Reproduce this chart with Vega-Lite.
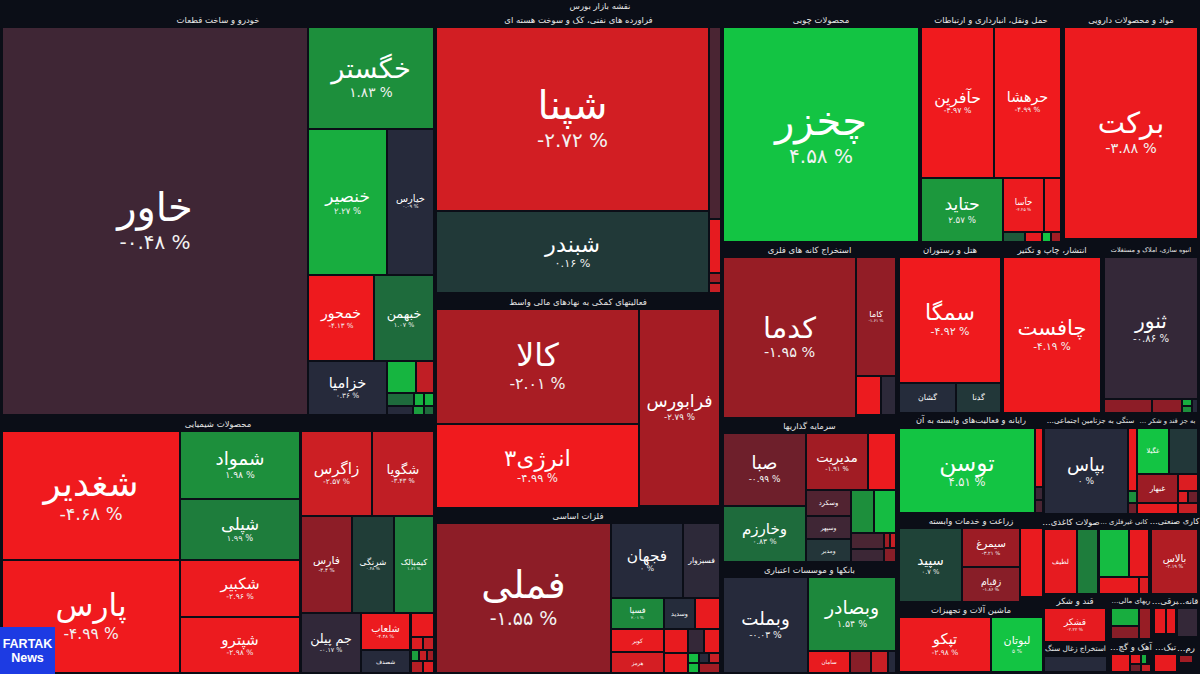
{
  "$schema": "https://vega.github.io/schema/vega-lite/v6.json",
  "width": 1200,
  "height": 674,
  "padding": 0,
  "autosize": {"type": "fit", "contains": "padding"},
  "background": "#0b0e17",
  "config": {"view": {"stroke": null}},
  "datasets": {
    "tiles": [
      {"group": "خودرو و ساخت قطعات", "name": "خاور", "pct": -0.48, "last": -0.35, "x0": 3, "x1": 307, "y0": 28, "y1": 414},
      {"group": "خودرو و ساخت قطعات", "name": "خگستر", "pct": 1.83, "last": 2, "x0": 309, "x1": 433, "y0": 28, "y1": 128},
      {"group": "خودرو و ساخت قطعات", "name": "خنصیر", "pct": 2.27, "last": 3, "x0": 309, "x1": 386, "y0": 130, "y1": 274},
      {"group": "خودرو و ساخت قطعات", "name": "خپارس", "pct": 0.09, "last": 0, "x0": 388, "x1": 433, "y0": 130, "y1": 274},
      {"group": "خودرو و ساخت قطعات", "name": "خمحور", "pct": -4.13, "last": -4.9, "x0": 309, "x1": 373, "y0": 276, "y1": 360},
      {"group": "خودرو و ساخت قطعات", "name": "خبهمن", "pct": 1.07, "last": 1, "x0": 375, "x1": 433, "y0": 276, "y1": 360},
      {"group": "خودرو و ساخت قطعات", "name": "خزامیا", "pct": 0.36, "last": 0, "x0": 309, "x1": 386, "y0": 362, "y1": 414},
      {"group": "خودرو و ساخت قطعات", "last": 3.5, "x0": 388, "x1": 415, "y0": 362, "y1": 392},
      {"group": "خودرو و ساخت قطعات", "last": -2.8, "x0": 417, "x1": 433, "y0": 362, "y1": 392},
      {"group": "خودرو و ساخت قطعات", "last": 1, "x0": 388, "x1": 413, "y0": 394, "y1": 405},
      {"group": "خودرو و ساخت قطعات", "last": 3.5, "x0": 415, "x1": 423, "y0": 394, "y1": 405},
      {"group": "خودرو و ساخت قطعات", "last": 3.5, "x0": 425, "x1": 433, "y0": 394, "y1": 405},
      {"group": "خودرو و ساخت قطعات", "last": 0, "x0": 388, "x1": 412, "y0": 407, "y1": 414},
      {"group": "خودرو و ساخت قطعات", "last": 2.5, "x0": 414, "x1": 423, "y0": 407, "y1": 414},
      {"group": "خودرو و ساخت قطعات", "last": 1, "x0": 425, "x1": 433, "y0": 407, "y1": 414},

      {"group": "محصولات شیمیایی", "name": "شغدیر", "pct": -4.68, "last": -5, "x0": 3, "x1": 179, "y0": 432, "y1": 559},
      {"group": "محصولات شیمیایی", "name": "پارس", "pct": -4.99, "last": -5, "x0": 3, "x1": 179, "y0": 561, "y1": 672},
      {"group": "محصولات شیمیایی", "name": "شمواد", "pct": 1.98, "last": 2, "x0": 181, "x1": 299, "y0": 432, "y1": 498},
      {"group": "محصولات شیمیایی", "name": "شپلی", "pct": 1.99, "last": 1.5, "x0": 181, "x1": 299, "y0": 500, "y1": 559},
      {"group": "محصولات شیمیایی", "name": "شکبیر", "pct": -2.96, "last": -4.8, "x0": 181, "x1": 299, "y0": 561, "y1": 616},
      {"group": "محصولات شیمیایی", "name": "شپترو", "pct": -2.98, "last": -4.8, "x0": 181, "x1": 299, "y0": 618, "y1": 672},
      {"group": "محصولات شیمیایی", "name": "زاگرس", "pct": -2.57, "last": -3.2, "x0": 302, "x1": 371, "y0": 432, "y1": 515},
      {"group": "محصولات شیمیایی", "name": "شگویا", "pct": -3.43, "last": -2.8, "x0": 373, "x1": 433, "y0": 432, "y1": 515},
      {"group": "محصولات شیمیایی", "name": "فارس", "pct": -3.4, "last": -1.6, "x0": 302, "x1": 351, "y0": 517, "y1": 612},
      {"group": "محصولات شیمیایی", "name": "شرنگی", "pct": 0.48, "last": 0.45, "x0": 353, "x1": 393, "y0": 517, "y1": 612},
      {"group": "محصولات شیمیایی", "name": "کیمیالک", "pct": 1.61, "last": 1.5, "x0": 395, "x1": 433, "y0": 517, "y1": 612},
      {"group": "محصولات شیمیایی", "name": "جم پیلن", "pct": -0.17, "last": -0.15, "x0": 302, "x1": 360, "y0": 614, "y1": 672},
      {"group": "محصولات شیمیایی", "name": "شلعاب", "pct": -4.48, "last": -4.8, "x0": 362, "x1": 409, "y0": 614, "y1": 649},
      {"group": "محصولات شیمیایی", "name": "شصدف", "last": 0, "x0": 362, "x1": 409, "y0": 651, "y1": 672},
      {"group": "محصولات شیمیایی", "last": -4.7, "x0": 412, "x1": 433, "y0": 614, "y1": 636},
      {"group": "محصولات شیمیایی", "last": -4, "x0": 412, "x1": 422, "y0": 638, "y1": 649},
      {"group": "محصولات شیمیایی", "last": -3, "x0": 424, "x1": 433, "y0": 638, "y1": 649},
      {"group": "محصولات شیمیایی", "last": 2.5, "x0": 412, "x1": 418, "y0": 651, "y1": 660},
      {"group": "محصولات شیمیایی", "last": -3, "x0": 420, "x1": 426, "y0": 651, "y1": 660},
      {"group": "محصولات شیمیایی", "last": -2, "x0": 428, "x1": 433, "y0": 651, "y1": 660},
      {"group": "محصولات شیمیایی", "last": -2.5, "x0": 412, "x1": 422, "y0": 662, "y1": 672},
      {"group": "محصولات شیمیایی", "last": -4, "x0": 424, "x1": 433, "y0": 662, "y1": 672},

      {"group": "فراورده های نفتی، کک و سوخت هسته ای", "name": "شپنا", "pct": -2.72, "last": -3.5, "x0": 437, "x1": 708, "y0": 28, "y1": 210},
      {"group": "فراورده های نفتی، کک و سوخت هسته ای", "name": "شبندر", "pct": 0.16, "last": 0.35, "x0": 437, "x1": 708, "y0": 212, "y1": 292},
      {"group": "فراورده های نفتی، کک و سوخت هسته ای", "last": -0.5, "x0": 710, "x1": 720, "y0": 28, "y1": 218},
      {"group": "فراورده های نفتی، کک و سوخت هسته ای", "last": -4.5, "x0": 710, "x1": 720, "y0": 220, "y1": 272},
      {"group": "فراورده های نفتی، کک و سوخت هسته ای", "last": -2, "x0": 710, "x1": 720, "y0": 274, "y1": 282},
      {"group": "فراورده های نفتی، کک و سوخت هسته ای", "last": -3, "x0": 710, "x1": 720, "y0": 284, "y1": 292},

      {"group": "فعالیتهای کمکی به نهادهای مالی واسط", "name": "کالا", "pct": -2.01, "last": -2.2, "x0": 437, "x1": 638, "y0": 310, "y1": 423},
      {"group": "فعالیتهای کمکی به نهادهای مالی واسط", "name": "انرژی۳", "pct": -4.99, "last": -5, "x0": 437, "x1": 638, "y0": 425, "y1": 507},
      {"group": "فعالیتهای کمکی به نهادهای مالی واسط", "name": "فرابورس", "pct": -2.79, "last": -2.1, "x0": 640, "x1": 719, "y0": 310, "y1": 505},

      {"group": "فلزات اساسی", "name": "فملی", "pct": -1.55, "last": -1.6, "x0": 437, "x1": 610, "y0": 524, "y1": 672},
      {"group": "فلزات اساسی", "name": "فجهان", "pct": 0, "last": 0, "x0": 612, "x1": 682, "y0": 524, "y1": 597},
      {"group": "فلزات اساسی", "name": "فسبزوار", "pct": -0.17, "last": -0.1, "x0": 684, "x1": 719, "y0": 524, "y1": 597},
      {"group": "فلزات اساسی", "name": "فسپا", "pct": 2.01, "last": 1.8, "x0": 612, "x1": 663, "y0": 599, "y1": 628},
      {"group": "فلزات اساسی", "name": "وسدید", "pct": 0.28, "last": 0.05, "x0": 665, "x1": 694, "y0": 599, "y1": 628},
      {"group": "فلزات اساسی", "last": -4.6, "x0": 696, "x1": 719, "y0": 599, "y1": 628},
      {"group": "فلزات اساسی", "name": "کویر", "last": -4.6, "x0": 612, "x1": 663, "y0": 630, "y1": 651},
      {"group": "فلزات اساسی", "name": "هرمز", "last": -3.6, "x0": 612, "x1": 663, "y0": 653, "y1": 672},
      {"group": "فلزات اساسی", "last": -4.6, "x0": 665, "x1": 687, "y0": 630, "y1": 652},
      {"group": "فلزات اساسی", "last": -4.6, "x0": 665, "x1": 687, "y0": 654, "y1": 672},
      {"group": "فلزات اساسی", "last": -0.2, "x0": 689, "x1": 703, "y0": 630, "y1": 652},
      {"group": "فلزات اساسی", "last": -4.6, "x0": 705, "x1": 719, "y0": 630, "y1": 652},
      {"group": "فلزات اساسی", "last": 4, "x0": 689, "x1": 698, "y0": 654, "y1": 662},
      {"group": "فلزات اساسی", "last": 4, "x0": 689, "x1": 698, "y0": 664, "y1": 672},
      {"group": "فلزات اساسی", "last": 0, "x0": 700, "x1": 708, "y0": 654, "y1": 662},
      {"group": "فلزات اساسی", "last": -3, "x0": 710, "x1": 719, "y0": 654, "y1": 662},
      {"group": "فلزات اساسی", "last": -2, "x0": 700, "x1": 719, "y0": 664, "y1": 672},

      {"group": "محصولات چوبی", "name": "چخزر", "pct": 4.58, "last": 4.6, "x0": 724, "x1": 918, "y0": 28, "y1": 241},

      {"group": "حمل ونقل، انبارداری و ارتباطات", "name": "حآفرین", "pct": -4.97, "last": -5, "x0": 922, "x1": 993, "y0": 28, "y1": 177},
      {"group": "حمل ونقل، انبارداری و ارتباطات", "name": "حرهشا", "pct": -4.99, "last": -5, "x0": 995, "x1": 1060, "y0": 28, "y1": 177},
      {"group": "حمل ونقل، انبارداری و ارتباطات", "name": "حتاید", "pct": 2.57, "last": 2.3, "x0": 922, "x1": 1002, "y0": 179, "y1": 241},
      {"group": "حمل ونقل، انبارداری و ارتباطات", "name": "حآسا", "pct": -4.45, "last": -4.8, "x0": 1004, "x1": 1043, "y0": 179, "y1": 231},
      {"group": "حمل ونقل، انبارداری و ارتباطات", "last": -4.8, "x0": 1045, "x1": 1060, "y0": 179, "y1": 231},
      {"group": "حمل ونقل، انبارداری و ارتباطات", "last": 0.8, "x0": 1004, "x1": 1024, "y0": 233, "y1": 241},
      {"group": "حمل ونقل، انبارداری و ارتباطات", "last": -4.5, "x0": 1026, "x1": 1041, "y0": 233, "y1": 241},
      {"group": "حمل ونقل، انبارداری و ارتباطات", "last": 4.5, "x0": 1043, "x1": 1050, "y0": 233, "y1": 241},
      {"group": "حمل ونقل، انبارداری و ارتباطات", "last": -2, "x0": 1052, "x1": 1060, "y0": 233, "y1": 241},

      {"group": "مواد و محصولات دارویی", "name": "برکت", "pct": -3.88, "last": -4.8, "x0": 1065, "x1": 1197, "y0": 28, "y1": 238},

      {"group": "استخراج کانه های فلزی", "name": "کدما", "pct": -1.95, "last": -1.8, "x0": 724, "x1": 855, "y0": 258, "y1": 417},
      {"group": "استخراج کانه های فلزی", "name": "کاما", "pct": -1.61, "last": -1.7, "x0": 857, "x1": 895, "y0": 258, "y1": 375},
      {"group": "استخراج کانه های فلزی", "last": -4.8, "x0": 857, "x1": 880, "y0": 377, "y1": 414},
      {"group": "استخراج کانه های فلزی", "last": -0.1, "x0": 882, "x1": 895, "y0": 377, "y1": 414},

      {"group": "هتل و رستوران", "name": "سمگا", "pct": -4.92, "last": -5, "x0": 900, "x1": 1000, "y0": 258, "y1": 382},
      {"group": "هتل و رستوران", "name": "گشان", "pct": 0.06, "last": 0.05, "x0": 900, "x1": 955, "y0": 384, "y1": 412},
      {"group": "هتل و رستوران", "name": "گدنا", "pct": 0.56, "last": 0.3, "x0": 957, "x1": 1000, "y0": 384, "y1": 412},

      {"group": "انتشار، چاپ و تکثیر", "name": "چافست", "pct": -4.19, "last": -4.9, "x0": 1004, "x1": 1100, "y0": 258, "y1": 412},

      {"group": "انبوه سازی، املاک و مستغلات", "name": "ثنور", "pct": -0.86, "last": -0.2, "x0": 1105, "x1": 1197, "y0": 258, "y1": 398},
      {"group": "انبوه سازی، املاک و مستغلات", "last": -1.6, "x0": 1105, "x1": 1151, "y0": 400, "y1": 412},
      {"group": "انبوه سازی، املاک و مستغلات", "last": -1.6, "x0": 1153, "x1": 1181, "y0": 400, "y1": 412},
      {"group": "انبوه سازی، املاک و مستغلات", "last": 3, "x0": 1183, "x1": 1191, "y0": 400, "y1": 405},
      {"group": "انبوه سازی، املاک و مستغلات", "last": 2, "x0": 1183, "x1": 1191, "y0": 407, "y1": 412},
      {"group": "انبوه سازی، املاک و مستغلات", "last": 0, "x0": 1193, "x1": 1197, "y0": 400, "y1": 412},

      {"group": "سرمایه گذاریها", "name": "صبا", "pct": -0.99, "last": -1, "x0": 724, "x1": 805, "y0": 434, "y1": 505},
      {"group": "سرمایه گذاریها", "name": "مدیریت", "pct": -1.91, "last": -2, "x0": 807, "x1": 867, "y0": 434, "y1": 489},
      {"group": "سرمایه گذاریها", "last": -4.8, "x0": 869, "x1": 895, "y0": 434, "y1": 489},
      {"group": "سرمایه گذاریها", "name": "وخارزم", "pct": 0.83, "last": 1, "x0": 724, "x1": 805, "y0": 507, "y1": 561},
      {"group": "سرمایه گذاریها", "name": "وسکرد", "pct": -1.18, "last": -0.6, "x0": 807, "x1": 850, "y0": 491, "y1": 515},
      {"group": "سرمایه گذاریها", "name": "وسپهر", "pct": -0.28, "last": -0.35, "x0": 807, "x1": 850, "y0": 517, "y1": 538},
      {"group": "سرمایه گذاریها", "name": "ومدیر", "pct": 0.21, "last": 0.25, "x0": 807, "x1": 850, "y0": 540, "y1": 561},
      {"group": "سرمایه گذاریها", "last": 2, "x0": 852, "x1": 873, "y0": 491, "y1": 532},
      {"group": "سرمایه گذاریها", "last": 4, "x0": 875, "x1": 895, "y0": 491, "y1": 532},
      {"group": "سرمایه گذاریها", "last": -0.5, "x0": 852, "x1": 883, "y0": 534, "y1": 548},
      {"group": "سرمایه گذاریها", "last": -0.3, "x0": 852, "x1": 883, "y0": 550, "y1": 561},
      {"group": "سرمایه گذاریها", "last": -2, "x0": 885, "x1": 889, "y0": 534, "y1": 547},
      {"group": "سرمایه گذاریها", "last": -3, "x0": 891, "x1": 895, "y0": 534, "y1": 547},
      {"group": "سرمایه گذاریها", "last": -1.5, "x0": 885, "x1": 895, "y0": 549, "y1": 561},

      {"group": "بانکها و موسسات اعتباری", "name": "وبملت", "pct": -0.03, "last": 0, "x0": 724, "x1": 807, "y0": 578, "y1": 672},
      {"group": "بانکها و موسسات اعتباری", "name": "وبصادر", "pct": 1.54, "last": 1.8, "x0": 809, "x1": 895, "y0": 578, "y1": 650},
      {"group": "بانکها و موسسات اعتباری", "name": "سامان", "last": -4.6, "x0": 809, "x1": 849, "y0": 652, "y1": 672},
      {"group": "بانکها و موسسات اعتباری", "last": -1.5, "x0": 851, "x1": 870, "y0": 652, "y1": 672},
      {"group": "بانکها و موسسات اعتباری", "last": -3, "x0": 872, "x1": 887, "y0": 652, "y1": 672},
      {"group": "بانکها و موسسات اعتباری", "last": 0, "x0": 889, "x1": 895, "y0": 652, "y1": 672},

      {"group": "رایانه و فعالیت‌های وابسته به آن", "name": "توسن", "pct": 4.51, "last": 4.6, "x0": 900, "x1": 1034, "y0": 429, "y1": 512},
      {"group": "رایانه و فعالیت‌های وابسته به آن", "last": -4.7, "x0": 1036, "x1": 1042, "y0": 429, "y1": 486},
      {"group": "رایانه و فعالیت‌های وابسته به آن", "last": -0.3, "x0": 1036, "x1": 1042, "y0": 488, "y1": 499},
      {"group": "رایانه و فعالیت‌های وابسته به آن", "last": -0.5, "x0": 1036, "x1": 1042, "y0": 501, "y1": 512},

      {"group": "زراعت و خدمات وابسته", "name": "سپید", "pct": 0.7, "last": 0.55, "x0": 900, "x1": 961, "y0": 529, "y1": 601},
      {"group": "زراعت و خدمات وابسته", "name": "سیمرغ", "pct": -3.21, "last": -1.9, "x0": 963, "x1": 1019, "y0": 529, "y1": 566},
      {"group": "زراعت و خدمات وابسته", "name": "زقیام", "pct": -1.86, "last": -1.5, "x0": 963, "x1": 1019, "y0": 568, "y1": 601},
      {"group": "زراعت و خدمات وابسته", "last": -4.7, "x0": 1021, "x1": 1042, "y0": 529, "y1": 596},

      {"group": "ماشین آلات و تجهیزات", "name": "تپکو", "pct": -2.98, "last": -4.8, "x0": 900, "x1": 990, "y0": 618, "y1": 671},
      {"group": "ماشین آلات و تجهیزات", "name": "لبوتان", "pct": 5, "last": 4.6, "x0": 992, "x1": 1042, "y0": 618, "y1": 671},

      {"group": "…ستگی به جزتامین اجتماعی", "name": "بپاس", "pct": 0, "last": 0, "x0": 1045, "x1": 1127, "y0": 429, "y1": 513},
      {"group": "…ستگی به جزتامین اجتماعی", "last": -4.7, "x0": 1129, "x1": 1136, "y0": 429, "y1": 490},
      {"group": "…ستگی به جزتامین اجتماعی", "last": 2, "x0": 1129, "x1": 1136, "y0": 492, "y1": 502},
      {"group": "…ستگی به جزتامین اجتماعی", "last": -1, "x0": 1129, "x1": 1136, "y0": 504, "y1": 513},

      {"group": "… به جز قند و شکر", "name": "غگیلا", "pct": 3.3, "last": 4.5, "x0": 1138, "x1": 1168, "y0": 429, "y1": 473},
      {"group": "… به جز قند و شکر", "last": 0.3, "x0": 1170, "x1": 1197, "y0": 429, "y1": 473},
      {"group": "… به جز قند و شکر", "name": "غبهار", "pct": -1.87, "last": -1.9, "x0": 1138, "x1": 1177, "y0": 475, "y1": 502},
      {"group": "… به جز قند و شکر", "last": -4, "x0": 1179, "x1": 1197, "y0": 475, "y1": 490},
      {"group": "… به جز قند و شکر", "last": -4, "x0": 1179, "x1": 1187, "y0": 492, "y1": 502},
      {"group": "… به جز قند و شکر", "last": -1, "x0": 1189, "x1": 1197, "y0": 492, "y1": 502},
      {"group": "… به جز قند و شکر", "last": -4.6, "x0": 1138, "x1": 1177, "y0": 504, "y1": 513},
      {"group": "… به جز قند و شکر", "last": -3, "x0": 1179, "x1": 1197, "y0": 504, "y1": 513},

      {"group": "…صولات کاغذی", "name": "لطیف", "pct": -3.04, "last": -4.5, "x0": 1045, "x1": 1076, "y0": 530, "y1": 593},
      {"group": "…صولات کاغذی", "name": "چکاپا", "last": 1.5, "x0": 1078, "x1": 1097, "y0": 530, "y1": 593},

      {"group": "… کانی غیرفلزی", "last": 4, "x0": 1100, "x1": 1128, "y0": 530, "y1": 576},
      {"group": "… کانی غیرفلزی", "last": -4.6, "x0": 1130, "x1": 1148, "y0": 530, "y1": 576},
      {"group": "… کانی غیرفلزی", "name": "کحاک", "last": -4.6, "x0": 1100, "x1": 1138, "y0": 578, "y1": 593},
      {"group": "… کانی غیرفلزی", "last": -4, "x0": 1140, "x1": 1148, "y0": 578, "y1": 593},

      {"group": "…کاری صنعتی", "name": "بالاس", "pct": -2.19, "last": -2.4, "x0": 1152, "x1": 1197, "y0": 530, "y1": 593},

      {"group": "قند و شکر", "name": "قشکر", "pct": -2.22, "last": -4.5, "x0": 1045, "x1": 1105, "y0": 609, "y1": 641},

      {"group": "…ریهای مالی", "last": 3, "x0": 1112, "x1": 1138, "y0": 609, "y1": 625},
      {"group": "…ریهای مالی", "last": -1.5, "x0": 1112, "x1": 1138, "y0": 627, "y1": 638},
      {"group": "…ریهای مالی", "last": -1.8, "x0": 1140, "x1": 1150, "y0": 609, "y1": 638},

      {"group": "…برقی", "last": -4.5, "x0": 1155, "x1": 1165, "y0": 609, "y1": 633},
      {"group": "…برقی", "last": -4.5, "x0": 1167, "x1": 1175, "y0": 609, "y1": 633},

      {"group": "…قانه", "last": -0.2, "x0": 1178, "x1": 1197, "y0": 609, "y1": 636},

      {"group": "استخراج زغال سنگ", "name": "کزغال", "last": 0, "x0": 1045, "x1": 1106, "y0": 657, "y1": 671},

      {"group": "…آهک و گچ", "last": -4.6, "x0": 1112, "x1": 1129, "y0": 655, "y1": 671},
      {"group": "…آهک و گچ", "last": -4.5, "x0": 1131, "x1": 1140, "y0": 655, "y1": 663},
      {"group": "…آهک و گچ", "last": -1, "x0": 1131, "x1": 1140, "y0": 665, "y1": 671},
      {"group": "…آهک و گچ", "last": 3, "x0": 1142, "x1": 1146, "y0": 655, "y1": 663},
      {"group": "…آهک و گچ", "last": -3, "x0": 1142, "x1": 1150, "y0": 665, "y1": 671},

      {"group": "…تیک", "last": -4.6, "x0": 1155, "x1": 1176, "y0": 655, "y1": 671},

      {"group": "…رم", "last": -2, "x0": 1180, "x1": 1192, "y0": 656, "y1": 662}
    ],
    "notes": [{"title": "نقشه بازار بورس", "line1": "FARTAK", "line2": "News"}]
  },
  "layer": [
    {
      "data": {"name": "tiles"},
      "mark": {"type": "rect"},
      "encoding": {
        "x": {"field": "x0", "type": "quantitative", "scale": {"domain": [0, 1200], "nice": false, "zero": false}, "axis": null},
        "x2": {"field": "x1"},
        "y": {"field": "y0", "type": "quantitative", "scale": {"domain": [0, 674], "nice": false, "zero": false, "reverse": true}, "axis": null},
        "y2": {"field": "y1"},
        "color": {
          "field": "last", "type": "quantitative", "legend": null,
          "scale": {
            "domain": [-5, -3, -2, -1, 0, 0.5, 1, 2, 3, 4.5],
            "range": ["#f01a1e", "#c81f25", "#a11c24", "#6e1f2b", "#262a3b", "#1f3f37", "#1e6b3c", "#1d8f3c", "#18ad3f", "#13c443"],
            "interpolate": "rgb", "clamp": true
          }
        }
      }
    },
    {
      "data": {"name": "tiles"},
      "transform": [
        {"filter": "datum.name"},
        {"calculate": "min((datum.x1-datum.x0)*0.22,(datum.y1-datum.y0)*0.28,40)", "as": "fs"},
        {"filter": "datum.fs>=5"},
        {"calculate": "(datum.x0+datum.x1)/2", "as": "cx"},
        {"calculate": "(datum.y0+datum.y1)/2-(isValid(datum.pct)&&datum.fs>=8?0.3*datum.fs:0)", "as": "ny"}
      ],
      "mark": {"type": "text", "font": "DejaVu Sans", "color": "#ffffff", "align": "center", "baseline": "middle"},
      "encoding": {
        "x": {"field": "cx", "type": "quantitative", "scale": {"domain": [0, 1200], "nice": false, "zero": false}, "axis": null},
        "y": {"field": "ny", "type": "quantitative", "scale": {"domain": [0, 674], "nice": false, "zero": false, "reverse": true}, "axis": null},
        "text": {"field": "name"},
        "size": {"field": "fs", "type": "quantitative", "scale": null, "legend": null}
      }
    },
    {
      "data": {"name": "tiles"},
      "transform": [
        {"filter": "isValid(datum.pct)"},
        {"calculate": "min((datum.x1-datum.x0)*0.22,(datum.y1-datum.y0)*0.28,40)", "as": "fs"},
        {"filter": "datum.fs>=8"},
        {"calculate": "(datum.x0+datum.x1)/2", "as": "cx"},
        {"calculate": "(datum.y0+datum.y1)/2+0.55*datum.fs", "as": "py"},
        {"calculate": "0.5*datum.fs", "as": "ps"},
        {"calculate": "replace(replace(replace(replace(replace(replace(replace(replace(replace(replace(toString(datum.pct),regexp('0','g'),'۰'),regexp('1','g'),'۱'),regexp('2','g'),'۲'),regexp('3','g'),'۳'),regexp('4','g'),'۴'),regexp('5','g'),'۵'),regexp('6','g'),'۶'),regexp('7','g'),'۷'),regexp('8','g'),'۸'),regexp('9','g'),'۹') + ' %'", "as": "label"}
      ],
      "mark": {"type": "text", "font": "DejaVu Sans", "color": "#f2f2f2", "align": "center", "baseline": "middle"},
      "encoding": {
        "x": {"field": "cx", "type": "quantitative", "scale": {"domain": [0, 1200], "nice": false, "zero": false}, "axis": null},
        "y": {"field": "py", "type": "quantitative", "scale": {"domain": [0, 674], "nice": false, "zero": false, "reverse": true}, "axis": null},
        "text": {"field": "label"},
        "size": {"field": "ps", "type": "quantitative", "scale": null, "legend": null}
      }
    },
    {
      "data": {"name": "tiles"},
      "transform": [
        {"aggregate": [{"op": "min", "field": "x0", "as": "gx0"}, {"op": "max", "field": "x1", "as": "gx1"}, {"op": "min", "field": "y0", "as": "gy0"}], "groupby": ["group"]},
        {"calculate": "(datum.gx0+datum.gx1)/2", "as": "gx"},
        {"calculate": "datum.gy0-8.5", "as": "gy"},
        {"calculate": "min(8.5,(datum.gx1-datum.gx0+4)/(length(datum.group)*0.55))", "as": "hs"}
      ],
      "mark": {"type": "text", "font": "DejaVu Sans", "color": "#e6e6e6", "dir": "rtl", "align": "center", "baseline": "middle"},
      "encoding": {
        "x": {"field": "gx", "type": "quantitative", "scale": {"domain": [0, 1200], "nice": false, "zero": false}, "axis": null},
        "y": {"field": "gy", "type": "quantitative", "scale": {"domain": [0, 674], "nice": false, "zero": false, "reverse": true}, "axis": null},
        "text": {"field": "group"},
        "size": {"field": "hs", "type": "quantitative", "scale": null, "legend": null}
      }
    },
    {
      "data": {"name": "notes"},
      "mark": {"type": "text", "font": "DejaVu Sans", "fontSize": 8.5, "color": "#e6e6e6", "align": "center", "baseline": "middle"},
      "encoding": {
        "x": {"datum": 600, "type": "quantitative", "scale": {"domain": [0, 1200], "nice": false, "zero": false}, "axis": null},
        "y": {"datum": 6, "type": "quantitative", "scale": {"domain": [0, 674], "nice": false, "zero": false, "reverse": true}, "axis": null},
        "text": {"field": "title"}
      }
    },
    {
      "data": {"name": "notes"},
      "mark": {"type": "rect", "color": "#1d3be3"},
      "encoding": {
        "x": {"datum": 0, "type": "quantitative", "scale": {"domain": [0, 1200], "nice": false, "zero": false}, "axis": null},
        "x2": {"datum": 55},
        "y": {"datum": 627, "type": "quantitative", "scale": {"domain": [0, 674], "nice": false, "zero": false, "reverse": true}, "axis": null},
        "y2": {"datum": 674}
      }
    },
    {
      "data": {"name": "notes"},
      "mark": {"type": "text", "font": "Liberation Sans", "fontWeight": "bold", "fontSize": 12.5, "color": "#ffffff", "align": "center", "baseline": "middle"},
      "encoding": {
        "x": {"datum": 27.5, "type": "quantitative", "scale": {"domain": [0, 1200], "nice": false, "zero": false}, "axis": null},
        "y": {"datum": 644, "type": "quantitative", "scale": {"domain": [0, 674], "nice": false, "zero": false, "reverse": true}, "axis": null},
        "text": {"field": "line1"}
      }
    },
    {
      "data": {"name": "notes"},
      "mark": {"type": "text", "font": "Liberation Sans", "fontWeight": "bold", "fontSize": 12.5, "color": "#ffffff", "align": "center", "baseline": "middle"},
      "encoding": {
        "x": {"datum": 27.5, "type": "quantitative", "scale": {"domain": [0, 1200], "nice": false, "zero": false}, "axis": null},
        "y": {"datum": 658, "type": "quantitative", "scale": {"domain": [0, 674], "nice": false, "zero": false, "reverse": true}, "axis": null},
        "text": {"field": "line2"}
      }
    }
  ]
}
